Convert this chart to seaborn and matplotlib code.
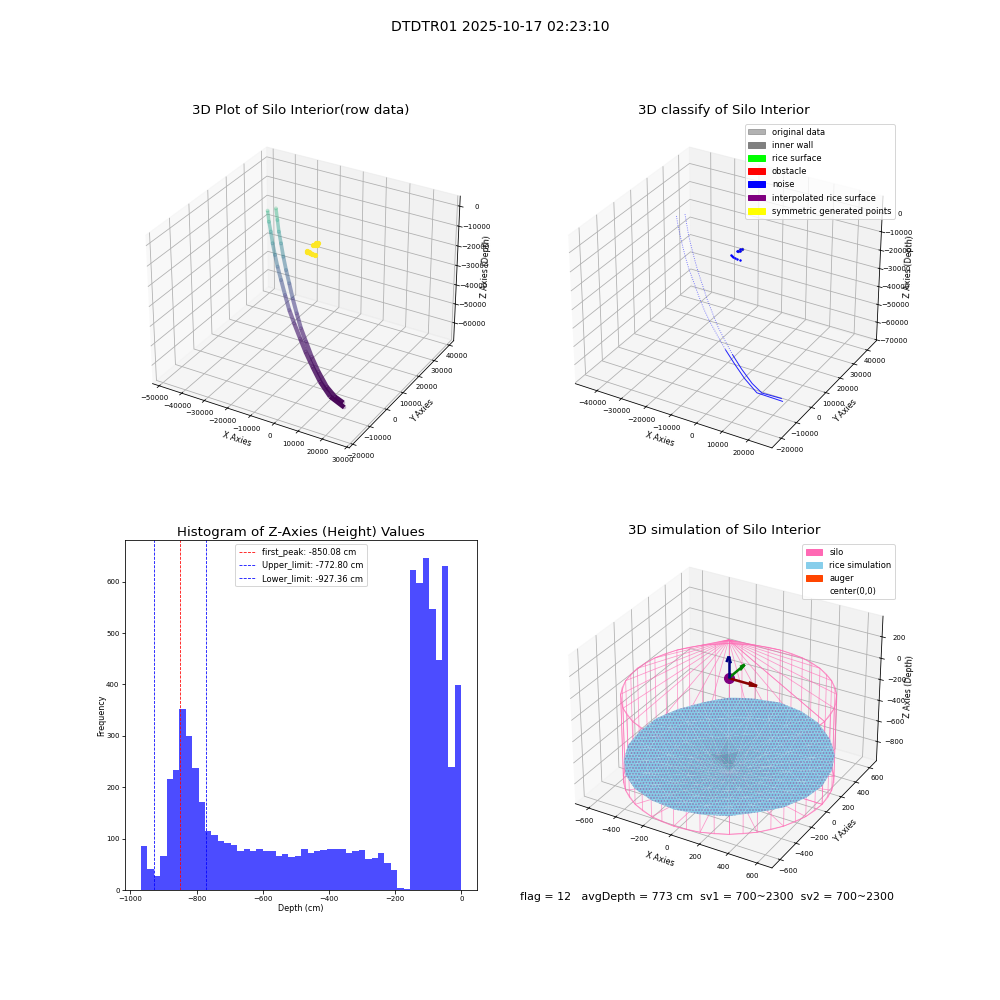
import numpy as np
import pandas as pd
import matplotlib
matplotlib.use('Agg')
import matplotlib.pyplot as plt
from matplotlib.patches import Patch
from matplotlib.colors import Normalize, LinearSegmentedColormap
import seaborn as sns

# Left and right wall traces (x, y, z)
trail_a_x = [-49400,-48200,-47100,-44900,-43000,-40700,-36800,-32900,-28300,-24000,-17600,-11700,-4800,2300,10100,17800]
trail_a_y = [38600,37800,37400,35600,34500,33000,30000,27200,23700,20900,15900,11200,6000,800,-4000,-6400]
trail_a_z = [-24000,-28900,-33500,-37700,-42500,-46900,-50500,-55000,-58800,-62200,-63900,-65000,-66000,-66800,-67500,-68000]
trail_b_x = [-46700,-45300,-43900,-41800,-39000,-36100,-32700,-28600,-24000,-19400,-14200,-7900,-1100,6200,11800,16100]
trail_b_y = [40100,39100,38100,36600,34300,32100,29500,26100,22400,18800,14800,9700,4500,-600,-3500,-4600]
trail_b_z = [-23000,-28000,-33000,-37500,-42000,-46500,-50500,-54500,-58000,-61500,-63500,-65000,-66000,-66800,-67300,-67800]
# Far end of the noise traces in the classified panel
tail_a = (20000, -3800, -68000)
tail_b = (18800, -2500, -68000)
# Cluster near the sensor
cluster_x = [-1500,-1100,-800,-1600,-1900,-2000,-1400,-700,0,1000,2100]
cluster_y = [2900,4200,3000,3800,2500,-1100,-1500,-1800,-2000,-2100,-2100]
cluster_z = [-1000,-800,-1000,-700,-1000,-1000,-1000,-900,-1000,-1100,-1000]
gray_x = [-1300,-900,-1500]
gray_y = [3300,3900,2600]
gray_z = [-1000,-900,-1100]

# Histogram
bin_lo, bin_hi, bin_n = -968, 0, 50
hist_counts = [86,41,28,67,216,234,352,300,238,172,115,107,96,92,88,75,80,75,80,76,76,67,70,
               65,67,80,71,75,78,80,79,80,71,75,78,61,63,71,53,39,4,2,622,598,646,546,447,630,240,398]
first_peak, upper_limit, lower_limit = -850.08, -772.80, -927.36

# Rice surface: depth per ring, one value every 15 degrees; rim every 7.5 degrees
ring_radii = [130, 260, 390, 520]
ring_depths = [
 [-880,-880,-880,-875,-875,-880,-905,-925,-925,-920,-905,-895,-890,-890,-890,-890,-890,-885,-885,-885,-885,-885,-885,-880],
 [-845,-840,-835,-835,-830,-835,-855,-885,-925,-925,-890,-870,-860,-860,-865,-870,-870,-865,-865,-860,-860,-855,-850,-850],
 [-810,-805,-795,-785,-780,-785,-800,-825,-855,-860,-835,-815,-810,-810,-820,-830,-840,-845,-840,-835,-830,-825,-820,-815],
 [-775,-765,-755,-745,-735,-735,-740,-750,-770,-775,-760,-750,-750,-760,-780,-795,-805,-810,-805,-800,-795,-790,-785,-780],
]
rim_radii = [664,652,666,654,668,656,670,658,666,654,668,656,672,660,668,652,666,656,670,654,666,656,668,654,
             664,652,666,648,660,650,666,654,668,652,666,654,664,650,660,648,666,652,664,654,668,652,666,656]
rim_depths = [-757,-750,-738,-735,-725,-715,-712,-700,-675,-680,-668,-662,-665,-670,-675,-668,-680,-690,-714,-720,-726,-740,-738,-748,
              -757,-762,-768,-775,-772,-780,-784,-778,-780,-786,-776,-772,-774,-770,-768,-760,-760,-752,-745,-755,-750,-757,-752,-760]
center_depth = -890
silo_radius, silo_apex, silo_eave, silo_floor = 668, 350, -150, -930

legend2_labels = ['original data','inner wall','rice surface','obstacle','noise','interpolated rice surface','symmetric generated points']
legend2_colors = [(0.5,0.5,0.5,0.6),'gray','lime','red','blue','purple','yellow']
legend4_labels = ['silo','rice simulation','auger','center(0,0)']
legend4_colors = ['hotpink','skyblue','orangered','white']

sns.set_style('white')
sns.reset_orig()
plt.rcParams['font.size'] = 8
plt.rcParams['xtick.labelsize'] = 7
plt.rcParams['ytick.labelsize'] = 7
plt.rcParams['axes.titlesize'] = 13.4
plt.rcParams['axes.labelsize'] = 8
plt.rcParams['legend.fontsize'] = 8.4
plt.rcParams['hatch.linewidth'] = 0.35

fig = plt.figure(figsize=(13.89, 13.89), dpi=72)
fig.suptitle('DTDTR01 2025-10-17 02:23:10', fontsize=14, y=0.98)

def label3d(ax):
    ax.set_xlabel('X Axies', labelpad=-4); ax.set_ylabel('Y Axies', labelpad=-4); ax.set_zlabel('Z Axies (Depth)', labelpad=-3)
    ax.tick_params(axis='x', pad=-1)
    ax.tick_params(axis='y', pad=-1)
    ax.tick_params(axis='z', labelsize=7, pad=2.5)

# Panel 1
ax1 = fig.add_subplot(2, 2, 1, projection='3d')
cmap = sns.color_palette('viridis', as_cmap=True)
all_z = np.r_[trail_a_z, trail_b_z, cluster_z]
norm = Normalize(all_z.min(), all_z.max())
for tx, ty, tz in [(trail_a_x, trail_a_y, trail_a_z), (trail_b_x, trail_b_y, trail_b_z)]:
    n = len(tx)
    for i in range(n - 1):
        a = 0.42 + 0.55 * (i / (n - 2)) ** 2
        ax1.plot(tx[i:i+2], ty[i:i+2], tz[i:i+2], color=cmap(norm((tz[i] + tz[i+1]) / 2)),
                 lw=3.4 + 1.2 * i / (n - 2), alpha=a, solid_capstyle='butt')
    ax1.scatter(tx, ty, tz, c=tz, cmap=cmap, norm=norm, s=9, alpha=0.2, depthshade=False)
ax1.scatter(cluster_x, cluster_y, cluster_z, color=cmap(1.0), s=18, depthshade=False)
ax1.set_xlim(-53000, 31000); ax1.set_ylim(-22000, 43000); ax1.set_zlim(-69500, 5000)
ax1.set_title('3D Plot of Silo Interior(row data)')
label3d(ax1)

# Panel 2
ax2 = fig.add_subplot(2, 2, 2, projection='3d')
for tx, ty, tz, tail in [(trail_a_x, trail_a_y, trail_a_z, tail_a), (trail_b_x, trail_b_y, trail_b_z, tail_b)]:
    qx, qy, qz = tx[:-1] + [tail[0]], ty[:-1] + [tail[1]], tz[:-1] + [tail[2]]
    ax2.plot(qx[:12], qy[:12], qz[:12], color='blue', lw=0.9, ls=(0, (1, 1.5)), alpha=0.55)
    ax2.plot(qx[11:], qy[11:], qz[11:], color='blue', lw=1.0, alpha=0.85)
ax2.scatter(cluster_x, cluster_y, cluster_z, color='blue', s=2, depthshade=False)
ax2.scatter(gray_x, gray_y, gray_z, color='gray', s=6, depthshade=False)
ax2.set_xlim(-49000, 29000); ax2.set_ylim(-26000, 47000); ax2.set_zlim(-70500, 9000)
ax2.set_title('3D classify of Silo Interior')
label3d(ax2)
ax2.legend(handles=[Patch(color=c, label=l) for c, l in zip(legend2_colors, legend2_labels)], loc='upper right')

# Panel 3
ax3 = fig.add_subplot(2, 2, 3)
edges = np.linspace(bin_lo, bin_hi, bin_n + 1)
hist_df = pd.DataFrame({'depth': (edges[:-1] + edges[1:]) / 2, 'count': hist_counts})
sns.histplot(data=hist_df, x='depth', weights='count', bins=bin_n, binrange=(bin_lo, bin_hi),
             color='blue', alpha=0.7, linewidth=0, ax=ax3)
ax3.axvline(first_peak, color='red', ls='--', lw=0.8, label=f'first_peak: {first_peak:.2f} cm')
ax3.axvline(upper_limit, color='blue', ls='--', lw=0.8, label=f'Upper_limit: {upper_limit:.2f} cm')
ax3.axvline(lower_limit, color='blue', ls='--', lw=0.8, label=f'Lower_limit: {lower_limit:.2f} cm')
ax3.set_ylim(0, 681)
ax3.set_xlabel('Depth (cm)', labelpad=2); ax3.set_ylabel('Frequency', labelpad=0)
ax3.tick_params(pad=2)
ax3.set_title('Histogram of Z-Axies (Height) Values', pad=4)
ax3.legend(loc='upper center')

# Panel 4
ax4 = fig.add_subplot(2, 2, 4, projection='3d')
ax4.computed_zorder = False
th = np.radians(np.arange(0, 361, 7.5))
sx, sy = silo_radius * np.cos(th), silo_radius * np.sin(th)
wall_z = np.array([silo_eave, silo_floor])
ax4.plot_wireframe(np.outer([1, 1], sx), np.outer([1, 1], sy), np.outer(wall_z, np.ones_like(th)),
                   color='hotpink', lw=0.8, alpha=0.65, zorder=1)
for zz, zc in [(silo_eave, silo_apex), (silo_floor, silo_floor)]:
    ax4.plot_wireframe(np.outer([1, 0], sx[::2]), np.outer([1, 0], sy[::2]),
                       np.vstack([np.full_like(sx[::2], zz), np.full_like(sx[::2], zc)]),
                       color='hotpink', lw=0.8, alpha=0.65, zorder=1)
ring_th = np.radians(np.arange(0, 360, 15))
rim_th = np.radians(np.arange(0, 360, 7.5))
px_, py_, pz_ = [0.0], [0.0], [float(center_depth)]
for r, d in zip(ring_radii, ring_depths):
    px_ += list(r * np.cos(ring_th)); py_ += list(r * np.sin(ring_th)); pz_ += d
px_ += list(np.array(rim_radii) * np.cos(rim_th)); py_ += list(np.array(rim_radii) * np.sin(rim_th)); pz_ += rim_depths
rice_cmap = LinearSegmentedColormap.from_list('rice', [(0, '#5f9db3'), (0.28, '#7fc3db'), (1, '#85cae6')])
surf = ax4.plot_trisurf(px_, py_, pz_, cmap=rice_cmap, vmin=-930, vmax=-800, linewidth=0, antialiased=True, zorder=2)
surf.set_edgecolor('#8a80b8')
surf.set_linewidth(0)
surf.set_hatch('oooo')
ax4.quiver(0, 0, 0, 200, 0, 0, color='darkred', lw=2.5, arrow_length_ratio=0.3, zorder=4)
ax4.quiver(0, 0, 0, 0, 200, 0, color='green', lw=2.5, arrow_length_ratio=0.3, zorder=4)
ax4.quiver(0, 0, 0, 0, 0, 200, color='navy', lw=2.5, arrow_length_ratio=0.3, zorder=4)
ax4.scatter([0], [0], [0], color='purple', s=100, depthshade=False, zorder=3)
ax4.set_xlim(-700, 700); ax4.set_ylim(-700, 700); ax4.set_zlim(-990, 390)
ax4.set_title('3D simulation of Silo Interior')
label3d(ax4)
ax4.legend(handles=[Patch(color=c, label=l) for c, l in zip(legend4_colors, legend4_labels)], loc='upper right')

fig.text(0.52, 0.103, 'flag = 12   avgDepth = 773 cm  sv1 = 700~2300  sv2 = 700~2300', fontsize=11, va='center')
fig.savefig('out.png', dpi=72)
